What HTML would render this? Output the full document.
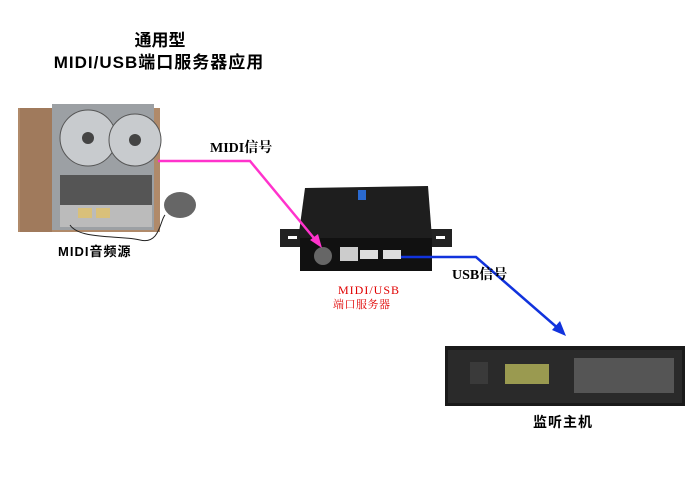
<!DOCTYPE html>
<html><head><meta charset="utf-8"><style>
body{margin:0;background:#fff;width:700px;height:495px;overflow:hidden}
svg{display:block}
.t{font-family:"Liberation Sans","Noto Sans CJK SC",sans-serif;font-weight:bold}
.s{font-family:"Liberation Serif","Noto Serif CJK SC",serif;font-weight:bold}
</style></head><body>
<svg width="700" height="495" viewBox="0 0 700 495">
<text class="t" x="160" y="46" font-size="17" text-anchor="middle">通用型</text>
<text class="t" x="159" y="68" font-size="17" text-anchor="middle" letter-spacing="1">MIDI/USB端口服务器应用</text>
<!-- reel machine -->
<rect x="18" y="108" width="142" height="124" fill="#b08a6a"/>
<rect x="20" y="108" width="32" height="124" fill="#a07a5c"/>
<rect x="52" y="104" width="102" height="126" fill="#9ca0a4"/>
<circle cx="88" cy="138" r="28" fill="#c8cbce" stroke="#555"/>
<circle cx="88" cy="138" r="6" fill="#444"/>
<circle cx="135" cy="140" r="26" fill="#c8cbce" stroke="#555"/>
<circle cx="135" cy="140" r="6" fill="#444"/>
<rect x="60" y="175" width="92" height="30" fill="#555"/>
<rect x="60" y="205" width="92" height="22" fill="#bbb"/>
<rect x="78" y="208" width="14" height="10" fill="#d9c07a"/><rect x="96" y="208" width="14" height="10" fill="#d9c07a"/>
<ellipse cx="180" cy="205" rx="16" ry="13" fill="#666"/>
<path d="M70 225 C80 240 120 235 140 240 C160 245 160 220 165 215" fill="none" stroke="#222"/>
<text class="t" x="58" y="256" font-size="13" letter-spacing="1">MIDI音频源</text>
<!-- device -->
<rect x="280" y="229" width="22" height="18" fill="#222"/>
<rect x="430" y="229" width="22" height="18" fill="#222"/>
<rect x="288" y="236" width="9" height="3" fill="#fff"/><rect x="436" y="236" width="9" height="3" fill="#fff"/>
<polygon points="305,188 428,186 432,238 298,240" fill="#1e1e1e"/>
<rect x="300" y="238" width="132" height="33" fill="#111"/>
<circle cx="323" cy="256" r="9" fill="#666"/>
<rect x="340" y="247" width="18" height="14" fill="#ccc"/>
<rect x="360" y="250" width="18" height="9" fill="#ddd"/>
<rect x="383" y="250" width="18" height="9" fill="#ddd"/>
<rect x="358" y="190" width="8" height="10" fill="#2a6ad0"/>
<!-- pink line -->
<polyline points="158,161 250,161 318,243" fill="none" stroke="#ff33cc" stroke-width="2.5"/>
<polygon points="322,248 310,240 318,234" fill="#ff33cc"/>
<text class="s" x="210" y="152" font-size="14">MIDI信号</text>
<text x="338" y="294" font-family="Liberation Serif,serif" font-size="12" fill="#e00000" letter-spacing="1">MIDI/USB</text>
<text x="333" y="308" font-family="Liberation Serif,'Noto Serif CJK SC',serif" font-size="11" fill="#e00000" letter-spacing="0.5">端口服务器</text>
<!-- blue line -->
<polyline points="401,257 476,257 560,330" fill="none" stroke="#1133dd" stroke-width="2.5"/>
<polygon points="566,336 552,330 560,321" fill="#1133dd"/>
<text class="s" x="452" y="279" font-size="14">USB信号</text>
<!-- rack -->
<rect x="445" y="346" width="240" height="60" fill="#1a1a1a"/>
<rect x="448" y="350" width="234" height="53" fill="#2a2a2a"/>
<rect x="470" y="362" width="18" height="22" fill="#3a3a3a"/>
<rect x="505" y="364" width="44" height="20" fill="#9a9a50"/>
<rect x="574" y="358" width="100" height="35" fill="#555"/>
<text class="t" x="533" y="427" font-size="14" letter-spacing="1">监听主机</text>
</svg>
</body></html>
